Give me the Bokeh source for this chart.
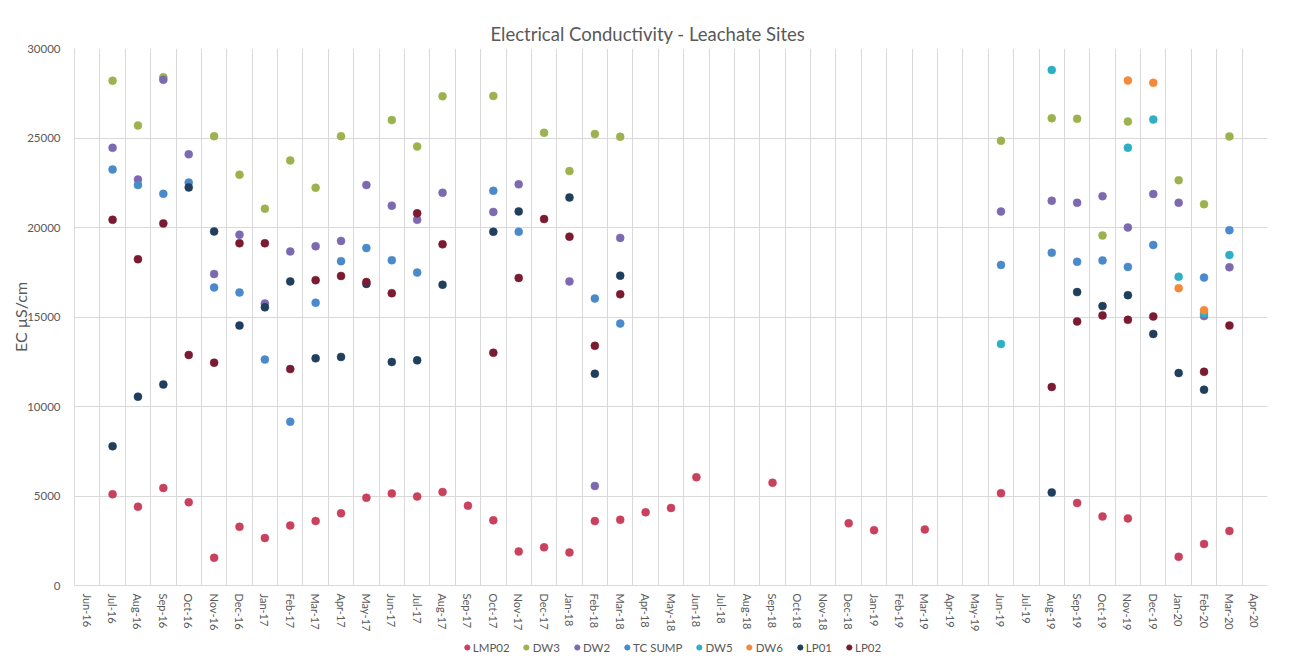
import math
from bokeh.plotting import figure
from bokeh.layouts import column
from bokeh.models import FixedTicker, Legend, LegendItem, ColumnDataSource, Range1d
from bokeh.embed import file_html
from bokeh.resources import INLINE

months = ["Jun-16", "Jul-16", "Aug-16", "Sep-16", "Oct-16", "Nov-16", "Dec-16",
          "Jan-17", "Feb-17", "Mar-17", "Apr-17", "May-17", "Jun-17", "Jul-17", "Aug-17",
          "Sep-17", "Oct-17", "Nov-17", "Dec-17", "Jan-18", "Feb-18", "Mar-18", "Apr-18",
          "May-18", "Jun-18", "Jul-18", "Aug-18", "Sep-18", "Oct-18", "Nov-18", "Dec-18",
          "Jan-19", "Feb-19", "Mar-19", "Apr-19", "May-19", "Jun-19", "Jul-19", "Aug-19",
          "Sep-19", "Oct-19", "Nov-19", "Dec-19", "Jan-20", "Feb-20", "Mar-20", "Apr-20"]

lmp02_months = ["Jul-16", "Aug-16", "Sep-16", "Oct-16", "Nov-16", "Dec-16", "Jan-17", "Feb-17",
                "Mar-17", "Apr-17", "May-17", "Jun-17", "Jul-17", "Aug-17", "Sep-17", "Oct-17",
                "Nov-17", "Dec-17", "Jan-18", "Feb-18", "Mar-18", "Apr-18", "May-18", "Jun-18",
                "Sep-18", "Dec-18", "Jan-19", "Mar-19", "Jun-19", "Sep-19", "Oct-19", "Nov-19",
                "Jan-20", "Feb-20", "Mar-20"]
lmp02_vals = [5100, 4400, 5450, 4650, 1550, 3280, 2650, 3350, 3600, 4030, 4900, 5140, 4970,
              5220, 4460, 3640, 1900, 2130, 1850, 3600, 3670, 4090, 4330, 6050, 5740, 3480,
              3090, 3130, 5160, 4610, 3860, 3750, 1600, 2320, 3050]

dw3_months = ["Jul-16", "Aug-16", "Sep-16", "Nov-16", "Dec-16", "Jan-17", "Feb-17", "Mar-17",
              "Apr-17", "Jun-17", "Jul-17", "Aug-17", "Oct-17", "Dec-17", "Jan-18", "Feb-18",
              "Mar-18", "Jun-19", "Aug-19", "Sep-19", "Oct-19", "Nov-19", "Jan-20", "Feb-20",
              "Mar-20"]
dw3_vals = [28200, 25700, 28400, 25100, 22950, 21050, 23750, 22220, 25100, 26000, 24520, 27330,
            27350, 25290, 23150, 25220, 25070, 24840, 26100, 26070, 19550, 25920, 22640, 21300,
            25090]

dw2_months = ["Jul-16", "Aug-16", "Sep-16", "Oct-16", "Nov-16", "Dec-16", "Jan-17", "Feb-17",
              "Mar-17", "Apr-17", "May-17", "Jun-17", "Jul-17", "Aug-17", "Oct-17", "Nov-17",
              "Jan-18", "Feb-18", "Mar-18", "Jun-19", "Aug-19", "Sep-19", "Oct-19", "Nov-19",
              "Dec-19", "Jan-20", "Feb-20", "Mar-20"]
dw2_vals = [24450, 22680, 28250, 24090, 17400, 19600, 15750, 18660, 18950, 19250, 22370, 21220,
            20430, 21940, 20870, 22410, 16990, 5560, 19420, 20890, 21490, 21380, 21750, 20000,
            21870, 21380, 15050, 17780]

tcsump_months = ["Jul-16", "Aug-16", "Sep-16", "Oct-16", "Nov-16", "Dec-16", "Jan-17", "Feb-17",
                 "Mar-17", "Apr-17", "May-17", "Jun-17", "Jul-17", "Oct-17", "Nov-17", "Feb-18",
                 "Mar-18", "Jun-19", "Aug-19", "Sep-19", "Oct-19", "Nov-19", "Dec-19", "Feb-20",
                 "Mar-20"]
tcsump_vals = [23240, 22370, 21880, 22510, 16650, 16370, 12620, 9150, 15800, 18120, 18850, 18170,
               17480, 22050, 19760, 16030, 14630, 17910, 18590, 18080, 18160, 17800, 19020, 17200,
               19850]

dw5_months = ["Jun-19", "Aug-19", "Nov-19", "Dec-19", "Jan-20", "Feb-20", "Mar-20"]
dw5_vals = [13490, 28800, 24460, 26030, 17250, 15200, 18460]

dw6_months = ["Nov-19", "Dec-19", "Jan-20", "Feb-20"]
dw6_vals = [28210, 28080, 16610, 15380]

lp01_months = ["Jul-16", "Aug-16", "Sep-16", "Oct-16", "Nov-16", "Dec-16", "Jan-17", "Feb-17",
               "Mar-17", "Apr-17", "May-17", "Jun-17", "Jul-17", "Aug-17", "Oct-17", "Nov-17",
               "Jan-18", "Feb-18", "Mar-18", "Aug-19", "Sep-19", "Oct-19", "Nov-19", "Dec-19",
               "Jan-20", "Feb-20"]
lp01_vals = [7780, 10550, 11230, 22240, 19780, 14520, 15540, 16990, 12690, 12770, 16850, 12490,
             12580, 16800, 19760, 20900, 21680, 11830, 17310, 5200, 16390, 15610, 16220, 14050,
             11870, 10940]

lp02_months = ["Jul-16", "Aug-16", "Sep-16", "Oct-16", "Nov-16", "Dec-16", "Jan-17", "Feb-17",
               "Mar-17", "Apr-17", "May-17", "Jun-17", "Jul-17", "Aug-17", "Oct-17", "Nov-17",
               "Dec-17", "Jan-18", "Feb-18", "Mar-18", "Aug-19", "Sep-19", "Oct-19", "Nov-19",
               "Dec-19", "Feb-20", "Mar-20"]
lp02_vals = [20430, 18230, 20230, 12880, 12450, 19120, 19120, 12090, 17060, 17290, 16950, 16330,
             20790, 19060, 13000, 17180, 20470, 19490, 13390, 16270, 11090, 14750, 15090, 14840,
             15030, 11940, 14520]

series = [
    ("LMP02", lmp02_months, lmp02_vals, "#C9415C"),
    ("DW3", dw3_months, dw3_vals, "#9CB24E"),
    ("DW2", dw2_months, dw2_vals, "#7C69B0"),
    ("TC SUMP", tcsump_months, tcsump_vals, "#4A89CA"),
    ("DW5", dw5_months, dw5_vals, "#2DAFC4"),
    ("DW6", dw6_months, dw6_vals, "#F28A3A"),
    ("LP01", lp01_months, lp01_vals, "#1F3F5C"),
    ("LP02", lp02_months, lp02_vals, "#7A1B32"),
]

FONT = "Lato"
TXT = "#595959"
GRID = "#D9D9D9"

p = figure(width=1288, height=635, output_backend="svg", toolbar_location=None,
           x_range=Range1d(0, len(months)), y_range=Range1d(0, 30000),
           min_border_left=74, min_border_right=21, min_border_top=48, min_border_bottom=50)

p.title.text = "Electrical Conductivity - Leachate Sites"
p.title.align = "left"
p.title.text_font = FONT
p.title.text_font_size = "18.5px"
p.title.text_font_style = "normal"
p.title.text_color = TXT
p.title.offset = 416
p.title.standoff = 7

p.outline_line_color = None
p.background_fill_color = "white"
p.border_fill_color = "white"

for name, ms, vals, col in series:
    xs = [months.index(m) + 0.5 for m in ms]
    src = ColumnDataSource(dict(x=xs, y=vals))
    p.scatter("x", "y", source=src, size=8, fill_color=col, line_color=col, line_width=0.5)

# axes
p.xaxis.ticker = FixedTicker(ticks=[i + 0.5 for i in range(len(months))])
p.xaxis.major_label_overrides = {i + 0.5: m for i, m in enumerate(months)}
p.xaxis.major_label_orientation = -math.pi / 2
p.xaxis.major_tick_line_color = None
p.xaxis.major_tick_out = 0
p.xaxis.major_tick_in = 0
p.xaxis.minor_tick_line_color = None
p.xaxis.minor_tick_out = 0
p.xaxis.axis_line_color = GRID
p.xaxis.major_label_text_font = FONT
p.xaxis.major_label_text_font_size = "11px"
p.xaxis.major_label_text_color = TXT
p.xaxis.major_label_standoff = 8

p.yaxis.ticker = FixedTicker(ticks=[0, 5000, 10000, 15000, 20000, 25000, 30000])
p.yaxis.major_tick_line_color = None
p.yaxis.major_tick_out = 0
p.yaxis.major_tick_in = 0
p.yaxis.minor_tick_line_color = None
p.yaxis.minor_tick_out = 0
p.yaxis.axis_line_color = GRID
p.yaxis.major_label_text_font = FONT
p.yaxis.major_label_text_font_size = "11.5px"
p.yaxis.major_label_text_color = TXT
p.yaxis.major_label_standoff = 14
p.yaxis.axis_label = "EC µS/cm"
p.yaxis.axis_label_text_font = FONT
p.yaxis.axis_label_text_font_size = "16px"
p.yaxis.axis_label_text_font_style = "normal"
p.yaxis.axis_label_text_color = TXT
p.yaxis.axis_label_standoff = -6

p.xgrid.ticker = FixedTicker(ticks=list(range(len(months) + 1)))
p.xgrid.grid_line_color = GRID
p.ygrid.grid_line_color = GRID

# legend strip below the chart
lg = figure(width=1288, height=24, output_backend="svg", toolbar_location=None,
            x_range=Range1d(0, 1), y_range=Range1d(0, 1),
            min_border_left=0, min_border_right=0, min_border_top=0, min_border_bottom=0)
lg.axis.visible = False
lg.grid.visible = False
lg.outline_line_color = None
lg.background_fill_color = "white"
lg.border_fill_color = "white"

items = []
for name, ms, vals, col in series:
    r = lg.scatter(x=[-5], y=[-5], size=8, fill_color=col, line_color=col)
    items.append(LegendItem(label=name, renderers=[r]))

legend = Legend(items=items, orientation="horizontal", location="center",
                label_text_font=FONT, label_text_font_size="11.5px", label_text_color=TXT,
                glyph_width=13, glyph_height=14, label_standoff=0, spacing=10,
                border_line_color=None, background_fill_alpha=0, padding=2, margin=0)
lg.add_layout(legend)

layout = column(p, lg, spacing=0)
open("out.html", "w").write(file_html(layout, INLINE))
